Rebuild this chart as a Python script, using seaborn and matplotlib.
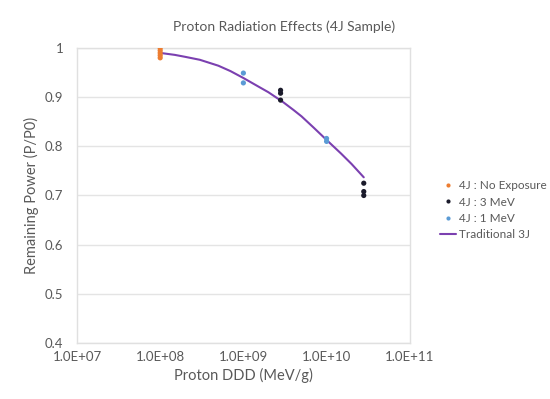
import numpy as np
import pandas as pd
import matplotlib
matplotlib.use("Agg")
import matplotlib.pyplot as plt
import seaborn as sns

# values
none_ddd = [1e8, 1e8, 1e8, 1e8, 1e8]
none_pp = [0.980, 0.985, 0.990, 0.995, 1.000]

mev3_ddd = [2.8e9, 2.8e9, 2.8e9, 2.8e10, 2.8e10, 2.8e10]
mev3_pp = [0.914, 0.908, 0.894, 0.725, 0.708, 0.700]

mev1_ddd = [1e9, 1e9, 1e10, 1e10]
mev1_pp = [0.949, 0.929, 0.816, 0.810]

trad_ddd = [1e8, 1.5e8, 2e8, 3e8, 5e8, 7e8, 1e9, 1.5e9, 2e9, 3e9, 4e9,
            5e9, 7e9, 1e10, 1.5e10, 2e10, 2.8e10]
trad_pp = [0.990, 0.986, 0.982, 0.976, 0.964, 0.953, 0.939, 0.922, 0.910,
           0.890, 0.874, 0.861, 0.838, 0.813, 0.785, 0.764, 0.737]

sns.set_style("white")
plt.rcParams['font.family'] = ['Lato', 'DejaVu Sans']
txt = "#595959"

pts = pd.concat([
    pd.DataFrame({"ddd": none_ddd, "pp": none_pp, "series": "4J : No Exposure"}),
    pd.DataFrame({"ddd": mev3_ddd, "pp": mev3_pp, "series": "4J : 3 MeV"}),
    pd.DataFrame({"ddd": mev1_ddd, "pp": mev1_pp, "series": "4J : 1 MeV"}),
])
trad = pd.DataFrame({"ddd": trad_ddd, "pp": trad_pp})

fig = plt.figure(figsize=(5.5, 3.99), dpi=100)
ax = fig.add_axes([0.14, 0.1404, 0.605, 0.7393])

palette = {"4J : No Exposure": "#ED7D31", "4J : 3 MeV": "#1B1B2B", "4J : 1 MeV": "#5B9BD5"}
sns.scatterplot(data=pts, x="ddd", y="pp", hue="series", palette=palette,
                s=14, linewidth=0, ax=ax, zorder=3)
sns.lineplot(data=trad, x="ddd", y="pp", color="#7B40B0", linewidth=1.5,
             label="Traditional 3J", ax=ax, zorder=2, sort=False)

ax.set_xscale("log")
ax.set_xlim(1e7, 1e11)
ax.set_ylim(0.4, 1.0)
ax.set_xticks([1e7, 1e8, 1e9, 1e10, 1e11])
ax.set_xticklabels(["1.0E+07", "1.0E+08", "1.0E+09", "1.0E+10", "1.0E+11"])
ax.xaxis.set_minor_locator(matplotlib.ticker.NullLocator())
ax.set_yticks([0.4, 0.5, 0.6, 0.7, 0.8, 0.9, 1.0])
ax.set_yticklabels(["0.4", "0.5", "0.6", "0.7", "0.8", "0.9", "1"])
ax.yaxis.grid(True, color="#E4E4E4", linewidth=1)
ax.set_axisbelow(True)
for s in ax.spines.values():
    s.set_color("#E0E0E0")
    s.set_linewidth(1)
ax.tick_params(axis="both", length=0, labelsize=9.5, colors=txt, pad=6)
ax.tick_params(axis="y", pad=10)

ax.set_xlabel("Proton DDD (MeV/g)", fontsize=10.5, color=txt, labelpad=3)
ax.set_ylabel("Remaining Power (P/P0)", fontsize=10.5, color=txt, labelpad=4)
ax.set_title("Proton Radiation Effects (4J Sample)", fontsize=10, color=txt,
             pad=12, x=0.622)

h, l = ax.get_legend_handles_labels()
leg = ax.legend(h, l, loc="center left", bbox_to_anchor=(1.06, 0.45), frameon=False,
                fontsize=8.5, labelcolor=txt, handlelength=1.3, handletextpad=0.3,
                labelspacing=0.45, markerscale=0.8)

fig.savefig("out.png", dpi=100)
